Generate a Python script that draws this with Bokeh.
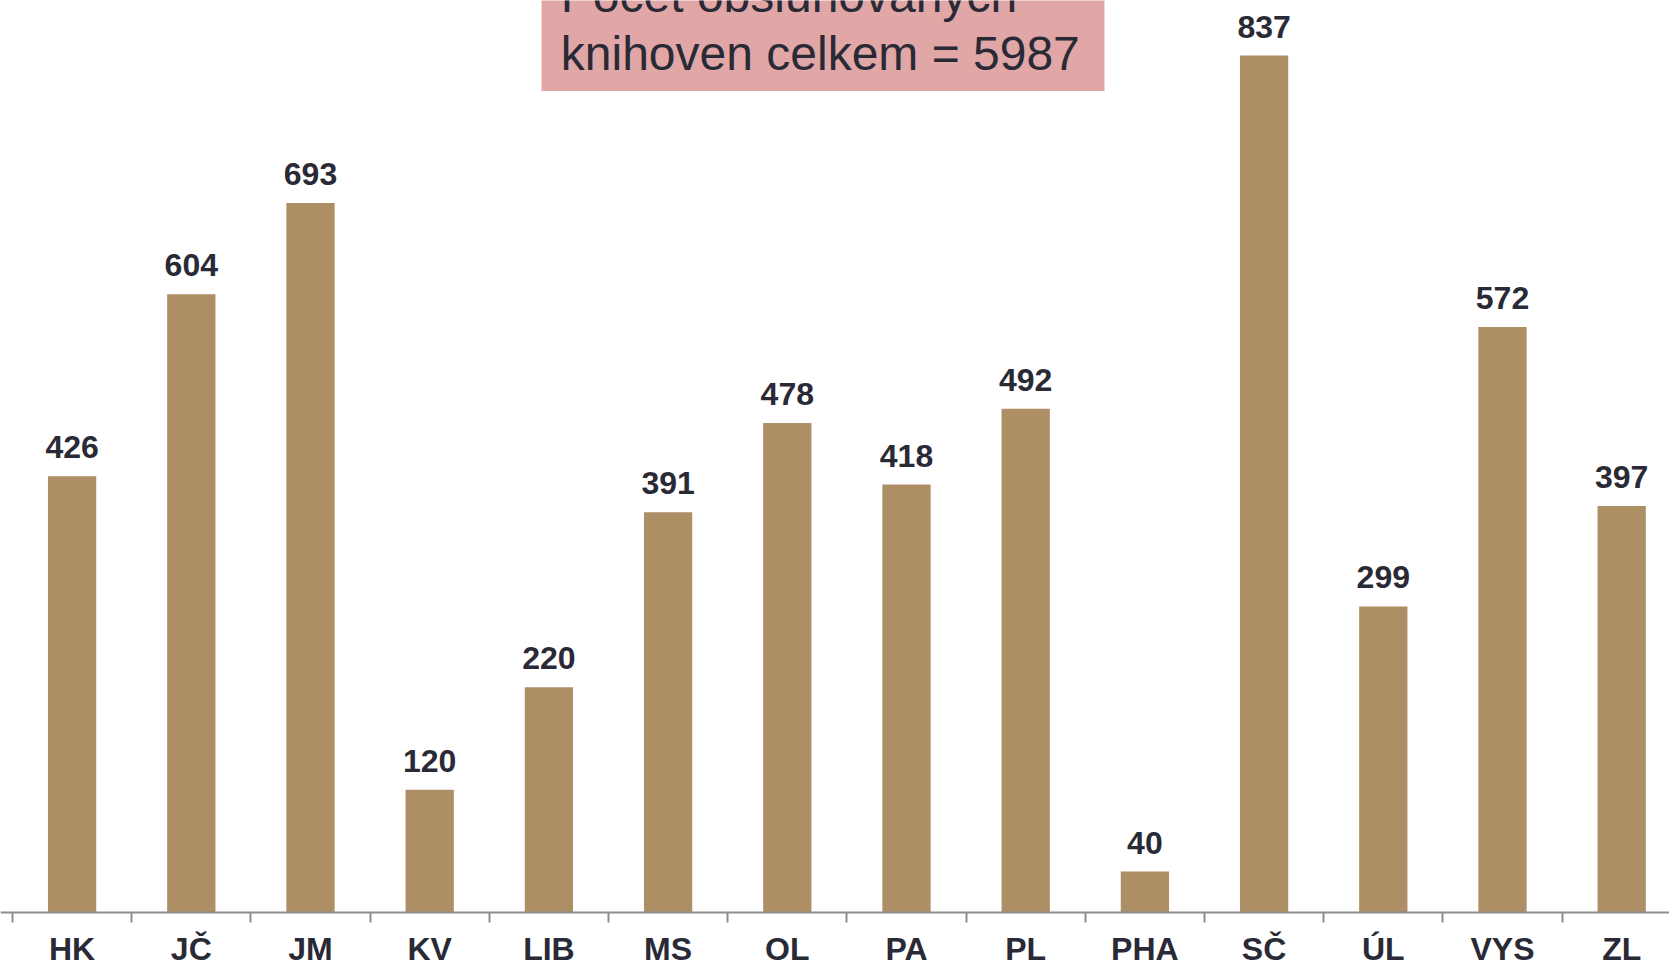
from bokeh.plotting import figure
from bokeh.models import (Range1d, FixedTicker, LabelSet, ColumnDataSource,
                          BoxAnnotation)
from bokeh.core.properties import value
from bokeh.embed import file_html
from bokeh.resources import INLINE

categories = ["HK", "JČ", "JM", "KV", "LIB", "MS", "OL", "PA", "PL", "PHA",
              "SČ", "ÚL", "VYS", "ZL"]
values = [426, 604, 693, 120, 220, 391, 478, 418, 492, 40, 837, 299, 572, 397]
title_lines = ["Počet obsluhovaných", "knihoven celkem = %d" % sum(values)]

BAR = "#AD8E65"
TXT = "#2A2A36"
PINK = "#E0A7A6"
AXIS = "#8E8E8E"
FONT = "Liberation Sans"

n = len(categories)
centers = [i + 0.5 for i in range(n)]
bounds = [float(i) for i in range(n + 1)]

src = ColumnDataSource(dict(x=centers, top=values,
                            label=[str(v) for v in values]))

p = figure(width=1669, height=964, output_backend="svg", toolbar_location=None,
           x_range=Range1d(-0.1007, 13.901), y_range=Range1d(-50.79, 890.8),
           min_border_left=0, min_border_right=0, min_border_top=0,
           min_border_bottom=0)
p.outline_line_color = None
p.background_fill_color = "white"
p.border_fill_color = "white"
p.xgrid.visible = False
p.ygrid.visible = False
p.yaxis.visible = False

p.vbar(x="x", top="top", bottom=0, width=0.405, source=src,
       fill_color=BAR, line_color=None)

labels = LabelSet(x="x", y="top", text="label", source=src,
                  text_align="center", text_baseline="alphabetic", y_offset=18,
                  text_font=value(FONT), text_font_style="bold",
                  text_font_size="32px", text_color=TXT)
p.add_layout(labels)

ax = p.xaxis[0]
ax.fixed_location = 0
ax.ticker = FixedTicker(ticks=centers, minor_ticks=bounds)
ax.major_label_overrides = {c: cat for c, cat in zip(centers, categories)}
ax.major_tick_out = 0
ax.major_tick_in = 0
ax.minor_tick_out = 10
ax.minor_tick_in = 0
ax.minor_tick_line_color = AXIS
ax.minor_tick_line_width = 2
ax.axis_line_color = AXIS
ax.axis_line_width = 2
ax.major_label_standoff = 8
ax.major_label_text_font = FONT
ax.major_label_text_font_style = "bold"
ax.major_label_text_font_size = "32px"
ax.major_label_text_color = TXT

box = BoxAnnotation(left=4.438, right=9.161, bottom=802.4, top=2000,
                    fill_color=PINK, fill_alpha=1.0, line_color=None)
p.add_layout(box)

title_src = ColumnDataSource(dict(x=[4.60, 4.60], y=[879.1, 823.4],
                                  text=title_lines))
title = LabelSet(x="x", y="y", text="text", source=title_src,
                 text_align="left", text_baseline="alphabetic",
                 text_font=value(FONT), text_font_size="48px", text_color=TXT)
p.add_layout(title)

open("out.html", "w").write(file_html(p, INLINE))
